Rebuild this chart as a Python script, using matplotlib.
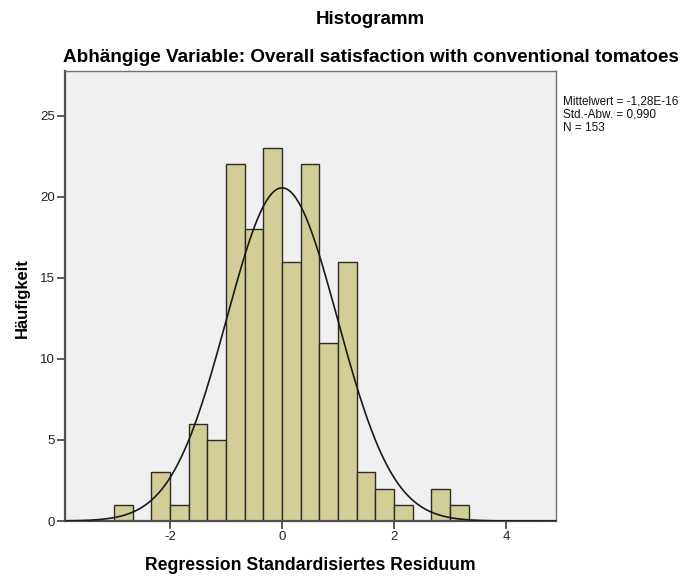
import numpy as np
import matplotlib
matplotlib.use("Agg")
import matplotlib.pyplot as plt

plt.rcParams['font.family'] = ['Liberation Sans', 'DejaVu Sans']
plt.rcParams['axes.unicode_minus'] = False

# Histogram of standardized regression residuals (bins of width 1/3 starting at -3)
bin_start = -3.0
bin_width = 1.0 / 3.0
counts = [1, 0, 3, 1, 6, 5, 22, 18, 23, 16, 22, 11, 16, 3, 2, 1, 0, 2, 1]

mean_val = -1.28e-16
std_val = 0.990
n_val = 153

x_ticks = [-2, 0, 2, 4]
y_ticks = [0, 5, 10, 15, 20, 25]

title = "Histogramm"
subtitle = "Abhängige Variable: Overall satisfaction with conventional tomatoes"
x_label = "Regression Standardisiertes Residuum"
y_label = "Häufigkeit"
stats_lines = ["Mittelwert = -1,28E-16", "Std.-Abw. = 0,990", "N = 153"]

W, H = 694, 579
fig = plt.figure(figsize=(W / 100, H / 100), dpi=100)
fig.patch.set_facecolor("white")

ax = fig.add_axes([65 / W, (H - 521) / H, 491 / W, 450 / H])
ax.set_facecolor("#F0F0F0")

edges = bin_start + bin_width * np.arange(len(counts) + 1)
for left, c in zip(edges[:-1], counts):
    if c > 0:
        ax.bar(left, c, width=bin_width, align="edge", color="#D3CE98",
               edgecolor="#2b2b2b", linewidth=1.0, zorder=2)

xlim = (-3.875, 4.89)
ylim = (0, 27.76)
xs = np.linspace(xlim[0], xlim[1], 600)
pdf = np.exp(-0.5 * ((xs - mean_val) / std_val) ** 2) / (std_val * np.sqrt(2 * np.pi))
ax.plot(xs, n_val * bin_width * pdf, color="#1a1a1a", linewidth=1.2, zorder=3)

ax.set_xlim(*xlim)
ax.set_ylim(*ylim)
ax.set_xticks(x_ticks)
ax.set_yticks(y_ticks)

for side in ["left", "bottom"]:
    ax.spines[side].set_color("#505050")
    ax.spines[side].set_linewidth(1.6)
for side in ["top", "right"]:
    ax.spines[side].set_color("#707070")
    ax.spines[side].set_linewidth(1.0)

ax.tick_params(axis="both", direction="out", length=6, width=1.2,
               color="#404040", labelsize=9.5, labelcolor="#222222", pad=1.5)

fig.text(310.5 / W, 1 - 565 / H, x_label, ha="center", va="center",
         fontsize=12.7, fontweight="bold")
fig.text(22 / W, 1 - 298 / H, y_label, ha="center", va="center",
         rotation=90, fontsize=12, fontweight="bold")

fig.text(370 / W, 1 - 19.5 / H, title, ha="center", va="center",
         fontsize=13.5, fontweight="bold")
fig.text(371 / W, 1 - 57.5 / H, subtitle, ha="center", va="center",
         fontsize=13.6, fontweight="bold")

for i, line in enumerate(stats_lines):
    fig.text(563 / W, 1 - (101 + 13.5 * i) / H, line, ha="left", va="center",
             fontsize=8.5, color="#111111")

fig.savefig("out.png", dpi=100)
